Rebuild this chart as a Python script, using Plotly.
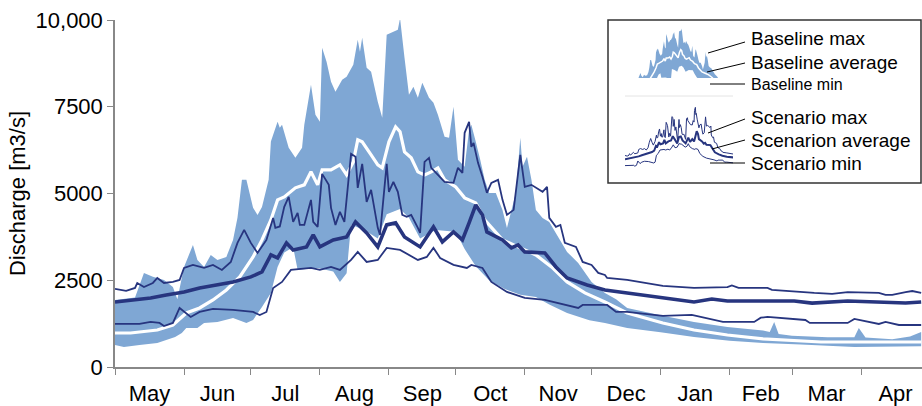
import pandas as pd
import plotly.graph_objects as go

# ---------------- data (day offset from 1 May, discharge m3/s) ----------------
start = pd.Timestamp("2001-05-01")

bmax_days = [0, 9, 13, 17, 22, 26, 28, 31, 35, 37, 40, 43, 46, 50, 53, 55, 57, 59, 62, 64, 66, 69, 70, 73, 74, 75,
             78, 81, 84, 85, 88, 90, 92, 93, 95, 97, 99, 102, 104, 107, 109, 110, 111, 113, 115, 118, 120, 122,
             125, 127, 128, 130, 132, 134, 136, 138, 141, 143, 145, 148, 150, 152, 154, 157, 159, 160, 162, 164,
             166, 168, 171, 174, 176, 180, 182, 183, 185, 187, 189, 192, 195, 199, 203, 208, 214, 220, 225, 230,
             246, 260, 275, 291, 294, 296, 298, 304, 320, 332, 334, 337, 349, 357, 362]
bmax_vals = [1932, 2000, 2711, 2600, 2509, 2307, 1950, 2884, 3518, 3086, 2884, 3230, 3086, 3172, 3663, 4300, 5393,
             5393, 4586, 4384, 4614, 5393, 6500, 7066, 6893, 6980, 6316, 6028, 6316, 6980, 8133, 7268, 7066, 9200,
             8796, 8219, 7931, 8277, 8364, 8710, 9431, 9085, 9488, 8623, 8508, 7643, 7181, 9575, 9661, 9719, 10050,
             8911, 7844, 8075, 7758, 8190, 7758, 7614, 7268, 6633, 6604, 7498, 5970, 5768, 6835, 6980, 6489, 5970,
             5393, 5018, 5018, 4528, 4009, 5018, 6604, 5768, 6056, 5393, 4528, 4297, 4182, 3749, 3317, 2999, 2451,
             2134, 1950, 1700, 1480, 1300, 1150, 1050, 1009, 1300, 950, 900, 860, 860, 1125, 850, 800, 880, 1009]

bmin_days = [0, 4, 11, 19, 23, 27, 30, 32, 37, 40, 46, 53, 59, 62, 66, 70, 73, 76, 80, 82, 91, 98, 101, 104, 106,
             112, 118, 122, 128, 132, 137, 144, 153, 157, 162, 168, 175, 182, 189, 195, 203, 213, 220, 230, 245,
             260, 276, 291, 308, 332, 362]
bmin_vals = [634, 577, 634, 692, 779, 865, 980, 1125, 1125, 1269, 1298, 1413, 1269, 1355, 1730, 2134, 2884, 3300,
             3450, 2800, 2850, 2750, 2451, 2700, 4100, 3950, 3700, 4400, 4550, 4300, 3700, 3950, 3900, 3400, 2900,
             2500, 2250, 2080, 2019, 1800, 1557, 1350, 1269, 1125, 1000, 865, 760, 692, 650, 577, 600]

bavg_days = [0, 7, 11, 19, 26, 32, 38, 44, 50, 56, 62, 66, 70, 71, 73, 76, 81, 85, 88, 91, 93, 97, 101, 104, 107,
             109, 111, 115, 118, 120, 123, 126, 128, 130, 133, 136, 139, 142, 145, 148, 153, 157, 162, 166, 174,
             181, 189, 196, 203, 211, 220, 230, 246, 260, 275, 291, 317, 362]
bavg_vals = [980, 980, 1009, 1067, 1211, 1557, 1702, 1932, 2221, 2596, 3172, 3663, 4239, 4441, 4816, 4903, 5163,
             5249, 5624, 5249, 5681, 5681, 5826, 5537, 5912, 6547, 6489, 6114, 5826, 5739, 6489, 6922, 6778, 6201,
             6028, 5624, 5537, 5624, 5739, 5393, 5191, 4874, 4730, 4239, 3663, 3461, 3230, 2884, 2451, 2134, 1875,
             1557, 1269, 1067, 923, 808, 721, 721]

smax_days = [0, 5, 9, 10, 13, 17, 19, 22, 26, 29, 31, 35, 40, 44, 48, 52, 55, 58, 61, 64, 68, 71, 72, 74, 76, 78,
             80, 82, 83, 85, 88, 89, 91, 93, 96, 97, 99, 101, 103, 106, 108, 109, 111, 113, 115, 118, 119, 122, 123,
             125, 127, 129, 131, 133, 136, 137, 139, 141, 142, 145, 148, 152, 154, 156, 157, 159, 160, 161, 163,
             165, 167, 169, 172, 174, 176, 179, 182, 184, 187, 192, 194, 195, 198, 200, 202, 207, 210, 214, 217,
             220, 221, 230, 246, 260, 275, 277, 280, 293, 295, 314, 322, 329, 343, 346, 349, 355, 358, 362]
smax_vals = [2250, 2192, 2278, 2422, 2307, 2422, 2567, 2422, 2451, 2509, 2855, 2942, 2855, 2942, 2798, 3028, 3576,
             3951, 3576, 3288, 3663, 4297, 4009, 4050, 4614, 4903, 4182, 4441, 4095, 4095, 4816, 4182, 4038, 5566,
             5249, 4586, 4095, 4470, 4182, 6143, 6056, 5163, 5855, 4759, 5105, 4009, 3807, 5855, 5047, 5335, 5047,
             4384, 4330, 4384, 4009, 3865, 5912, 6028, 5739, 5537, 5335, 5307, 5739, 5595, 6749, 7066, 6345, 6460,
             5883, 5480, 5018, 5307, 5393, 4816, 4384, 4528, 6114, 5191, 5249, 5047, 5191, 4297, 4038, 4095, 3576,
             3461, 3028, 2942, 2711, 2653, 2567, 2509, 2336, 2278, 2300, 2350, 2278, 2278, 2221, 2134, 2110, 2160,
             2134, 2076, 2076, 2160, 2190, 2134]

savg_days = [0, 8, 16, 23, 31, 38, 46, 53, 61, 66, 70, 73, 77, 80, 86, 89, 92, 98, 104, 108, 113, 118, 122, 126,
             130, 137, 143, 147, 152, 156, 159, 162, 165, 167, 174, 178, 181, 184, 193, 198, 203, 212, 220, 230,
             246, 260, 268, 275, 291, 305, 313, 329, 355, 362]
savg_vals = [1875, 1932, 1990, 2076, 2163, 2278, 2365, 2451, 2596, 2740, 3230, 3143, 3576, 3374, 3461, 3807, 3461,
             3663, 3749, 4182, 3865, 3461, 4095, 4153, 3749, 3461, 4038, 3605, 3893, 3663, 4153, 4672, 4384, 3893,
             3663, 3432, 3518, 3317, 3288, 2884, 2567, 2365, 2221, 2134, 2019, 1875, 1960, 1903, 1903, 1900, 1840,
             1903, 1845, 1875]

smin_days = [0, 11, 16, 20, 22, 26, 29, 34, 38, 44, 53, 62, 65, 68, 71, 75, 79, 88, 92, 97, 101, 106, 109, 113,
             118, 122, 128, 136, 140, 143, 146, 152, 158, 160, 165, 169, 176, 184, 193, 201, 208, 210, 221, 225,
             230, 246, 259, 273, 287, 290, 293, 310, 312, 329, 332, 343, 346, 352, 362]
smin_vals = [1240, 1240, 1298, 1269, 1182, 1269, 1702, 1442, 1586, 1673, 1644, 1586, 1500, 1586, 2278, 2451, 2798,
             2855, 2798, 2884, 2798, 3086, 3317, 3028, 3086, 3432, 3374, 3086, 3172, 3432, 3143, 2942, 2855, 2942,
             2855, 2451, 2163, 1990, 1932, 1817, 1702, 1788, 1788, 1586, 1586, 1471, 1500, 1298, 1298, 1420, 1442,
             1355, 1269, 1269, 1384, 1240, 1298, 1211, 1211]

y_tickvals = [0, 2500, 5000, 7500, 10000]
y_ticktext = ["0", "2500", "5000", "7500", "10,000"]
legend_labels = ["Baseline max", "Baseline average", "Baseline min",
                 "Scenario max", "Scenarion average", "Scenario min"]


def dates(days):
    return [start + pd.Timedelta(days=d) for d in days]


BAND = "#7fa7d4"
NAVY = "#27357f"
FONT = "Liberation Sans, Arial, sans-serif"

# figure geometry helpers (pixel -> paper)
L, T, W, H = 115, 20, 807, 347


def px(x):
    return (x - L) / W


def py(y):
    return (T + H - y) / H


fig = go.Figure()

band_x = dates(bmax_days) + dates(bmin_days)[::-1]
band_y = bmax_vals + bmin_vals[::-1]

# main chart
fig.add_trace(go.Scatter(x=band_x, y=band_y, fill="toself", fillcolor=BAND, mode="none",
                         hoverinfo="skip", showlegend=False))
fig.add_trace(go.Scatter(x=dates(bavg_days), y=bavg_vals, mode="lines",
                         line=dict(color="white", width=3.2), showlegend=False))
fig.add_trace(go.Scatter(x=dates(smin_days), y=smin_vals, mode="lines",
                         line=dict(color=NAVY, width=1.8), showlegend=False))
fig.add_trace(go.Scatter(x=dates(smax_days), y=smax_vals, mode="lines",
                         line=dict(color=NAVY, width=1.8), showlegend=False))
fig.add_trace(go.Scatter(x=dates(savg_days), y=savg_vals, mode="lines",
                         line=dict(color=NAVY, width=3.6), showlegend=False))

# legend thumbnails: baseline (x2/y2) and scenario (x3/y3)
fig.add_trace(go.Scatter(x=band_x, y=band_y, fill="toself", fillcolor=BAND, mode="none",
                         xaxis="x2", yaxis="y2", hoverinfo="skip", showlegend=False))
fig.add_trace(go.Scatter(x=dates(bavg_days), y=bavg_vals, mode="lines",
                         line=dict(color="white", width=1.5), xaxis="x2", yaxis="y2", showlegend=False))
fig.add_trace(go.Scatter(x=dates(smin_days), y=smin_vals, mode="lines",
                         line=dict(color=NAVY, width=1), xaxis="x3", yaxis="y3", showlegend=False))
fig.add_trace(go.Scatter(x=dates(smax_days), y=smax_vals, mode="lines",
                         line=dict(color=NAVY, width=1), xaxis="x3", yaxis="y3", showlegend=False))
fig.add_trace(go.Scatter(x=dates(savg_days), y=savg_vals, mode="lines",
                         line=dict(color=NAVY, width=2), xaxis="x3", yaxis="y3", showlegend=False))

thumb_range = [start, pd.Timestamp("2001-12-31")]

shapes = [
    dict(type="rect", xref="paper", yref="paper", x0=px(608), x1=px(921), y0=py(183), y1=py(20),
         line=dict(color="#333333", width=1.5), fillcolor="rgba(0,0,0,0)", layer="below"),
    dict(type="line", xref="paper", yref="paper", x0=px(625), x1=px(733), y0=py(96), y1=py(96),
         line=dict(color="#e4e4e4", width=1)),
]
leaders = [((708, 53), (745, 42)), ((707, 72), (745, 63)), ((710, 84), (745, 84)),
           ((708, 133), (745, 119)), ((712, 149), (745, 140)), ((710, 163), (745, 163))]
for (x0, y0), (x1, y1) in leaders:
    shapes.append(dict(type="line", xref="paper", yref="paper", x0=px(x0), y0=py(y0), x1=px(x1), y1=py(y1),
                       line=dict(color="black", width=1)))

label_y = [38, 62, 84, 118, 140, 163]
label_size = [19, 19, 16, 19, 19, 19]
annotations = []
for txt, yy, sz in zip(legend_labels, label_y, label_size):
    annotations.append(dict(text=txt, xref="paper", yref="paper", x=px(749), y=py(yy), xanchor="left",
                            yanchor="middle", showarrow=False, font=dict(size=sz, color="black", family=FONT)))

fig.update_layout(
    width=922, height=406,
    margin=dict(l=L, r=922 - L - W, t=T, b=406 - T - H),
    paper_bgcolor="white", plot_bgcolor="white",
    font=dict(family=FONT, color="black", size=22),
    showlegend=False,
    shapes=shapes,
    annotations=annotations,
    xaxis=dict(type="date", range=[start, pd.Timestamp("2002-04-28 09:00")], dtick="M1", tick0="2001-05-01",
               tickformat="%b", ticklabelmode="period", ticks="outside", ticklen=6, tickcolor="#888888",
               showline=True, linecolor="#888888", linewidth=1.5, showgrid=False, zeroline=False,
               tickfont=dict(size=22)),
    yaxis=dict(range=[0, 10000], tickvals=y_tickvals, ticktext=y_ticktext, ticks="outside", ticklen=6,
               tickcolor="#888888", showline=True, linecolor="#888888", linewidth=1.5, showgrid=False,
               zeroline=False, tickfont=dict(size=22),
               title=dict(text="Discharge [m3/s]", font=dict(size=22), standoff=4)),
    xaxis2=dict(type="date", domain=[px(625), px(733)], range=thumb_range, visible=False, anchor="y2"),
    yaxis2=dict(domain=[py(97), py(28.5)], range=[0, 10000], visible=False, anchor="x2"),
    xaxis3=dict(type="date", domain=[px(625), px(733)], range=thumb_range, visible=False, anchor="y3"),
    yaxis3=dict(domain=[py(178), py(78)], range=[0, 10000], visible=False, anchor="x3"),
)

fig.write_html("out.html", config={"displayModeBar": False},
               post_script="document.body.style.margin='0px';")
